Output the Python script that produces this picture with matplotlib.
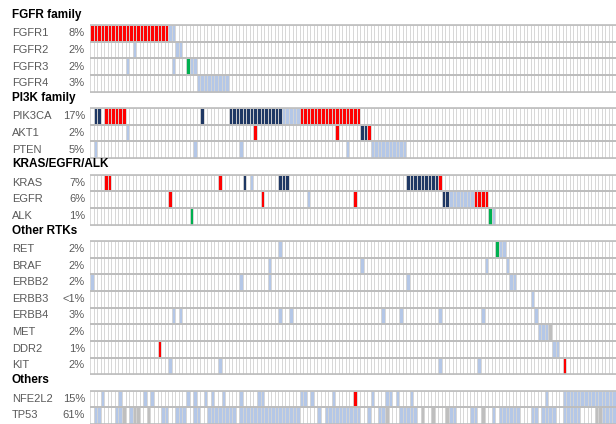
import matplotlib
matplotlib.use('Agg')
import matplotlib.pyplot as plt
from matplotlib.patches import Rectangle

# alteration colours
colors = {
    'amp': '#ff0000',
    'mut': '#1f3864',
    'oth': '#b4c7e7',
    'fus': '#00b050',
    'unk': '#bfbfbf',
}

n_samples = 148

# each gene: list of (type, first sample, last sample)
fgfr1 = [('amp', 0, 21), ('oth', 22, 23)]
fgfr2 = [('oth', 12, 12), ('oth', 24, 25)]
fgfr3 = [('oth', 10, 10), ('oth', 23, 23), ('fus', 27, 27), ('oth', 28, 29)]
fgfr4 = [('oth', 30, 38)]
pik3ca = [('mut', 1, 2), ('amp', 4, 9), ('mut', 31, 31), ('mut', 39, 53),
          ('oth', 54, 58), ('amp', 59, 75)]
akt1 = [('oth', 10, 10), ('amp', 46, 46), ('amp', 69, 69), ('mut', 76, 77), ('amp', 78, 78)]
pten = [('oth', 1, 1), ('oth', 29, 29), ('oth', 42, 42), ('oth', 72, 72), ('oth', 79, 88)]
kras = [('amp', 4, 5), ('amp', 36, 36), ('mut', 43, 43), ('oth', 45, 45), ('mut', 53, 55),
        ('mut', 89, 97), ('amp', 98, 98)]
egfr = [('amp', 22, 22), ('amp', 48, 48), ('oth', 61, 61), ('amp', 74, 74), ('mut', 99, 100),
        ('oth', 101, 107), ('amp', 108, 111)]
alk = [('fus', 28, 28), ('fus', 112, 112), ('oth', 113, 113)]
ret = [('oth', 53, 53), ('fus', 114, 114), ('oth', 115, 116)]
braf = [('oth', 50, 50), ('oth', 76, 76), ('oth', 111, 111), ('oth', 117, 117)]
erbb2 = [('oth', 0, 0), ('oth', 42, 42), ('oth', 50, 50), ('oth', 89, 89), ('oth', 118, 119)]
erbb3 = [('oth', 124, 124)]
erbb4 = [('oth', 23, 23), ('oth', 25, 25), ('oth', 53, 53), ('oth', 56, 56), ('oth', 82, 82),
         ('oth', 87, 87), ('oth', 98, 98), ('oth', 110, 110), ('oth', 125, 125)]
met = [('oth', 126, 128), ('unk', 129, 129)]
ddr2 = [('amp', 19, 19), ('oth', 130, 131)]
kit = [('oth', 22, 22), ('oth', 36, 36), ('oth', 98, 98), ('oth', 109, 109), ('amp', 133, 133)]
nfe2l2 = [('oth', 3, 3), ('oth', 8, 8), ('oth', 15, 15), ('oth', 17, 17), ('oth', 27, 27),
          ('oth', 29, 29), ('oth', 32, 32), ('oth', 34, 34), ('oth', 37, 37), ('oth', 42, 42),
          ('oth', 47, 48), ('oth', 59, 60), ('oth', 62, 62), ('oth', 68, 68), ('amp', 74, 74),
          ('oth', 79, 79), ('oth', 83, 84), ('oth', 86, 86), ('oth', 90, 90), ('oth', 128, 128),
          ('oth', 133, 147)]
tp53 = [('oth', 1, 2), ('oth', 7, 8), ('unk', 9, 9), ('oth', 11, 11), ('unk', 12, 13),
        ('unk', 16, 16), ('oth', 20, 21), ('oth', 24, 26), ('oth', 29, 30), ('oth', 33, 40),
        ('oth', 42, 58), ('oth', 64, 64), ('oth', 66, 75), ('oth', 78, 78), ('oth', 81, 82),
        ('unk', 83, 83), ('oth', 87, 91), ('unk', 93, 93), ('unk', 96, 96), ('unk', 100, 100),
        ('oth', 101, 102), ('oth', 107, 108), ('unk', 110, 110), ('oth', 113, 113),
        ('oth', 115, 120), ('oth', 124, 125), ('oth', 127, 130), ('oth', 133, 137),
        ('unk', 142, 143), ('oth', 144, 147)]

# rows top to bottom: headings have no gene data
rows = [
    ('FGFR family', None, None),
    ('FGFR1', '8%', fgfr1),
    ('FGFR2', '2%', fgfr2),
    ('FGFR3', '2%', fgfr3),
    ('FGFR4', '3%', fgfr4),
    ('PI3K family', None, None),
    ('PIK3CA', '17%', pik3ca),
    ('AKT1', '2%', akt1),
    ('PTEN', '5%', pten),
    ('KRAS/EGFR/ALK', None, None),
    ('KRAS', '7%', kras),
    ('EGFR', '6%', egfr),
    ('ALK', '1%', alk),
    ('Other RTKs', None, None),
    ('RET', '2%', ret),
    ('BRAF', '2%', braf),
    ('ERBB2', '2%', erbb2),
    ('ERBB3', '<1%', erbb3),
    ('ERBB4', '3%', erbb4),
    ('MET', '2%', met),
    ('DDR2', '1%', ddr2),
    ('KIT', '2%', kit),
    ('Others', None, None),
    ('NFE2L2', '15%', nfe2l2),
    ('TP53', '61%', tp53),
]

plt.rcParams['font.family'] = ['Liberation Sans Narrow', 'Liberation Sans', 'DejaVu Sans']

W, H = 616, 424
fig = plt.figure(figsize=(W / 100, H / 100), dpi=100)
left = 90 / W
top = 8.4 / H
ax = fig.add_axes([left, 0, 1 - left, 1 - top])
ax.set_xlim(0, n_samples)
ax.set_ylim(len(rows), 0)
ax.axis('off')

for r, (name, pct, segs) in enumerate(rows):
    yc = r + 0.5
    if segs is None:
        fig.text(12 / W, 1 - (8.4 + (r + 0.4) * 16.6) / H, name, fontsize=8.5,
                 fontweight='bold', color='black', va='center', ha='left')
        continue
    fill = ['white'] * n_samples
    for kind, a, b in segs:
        for i in range(a, b + 1):
            fill[i] = colors[kind]
    for i in range(n_samples):
        ax.add_patch(Rectangle((i, r), 1, 1, facecolor=fill[i], edgecolor='#d4d4d4',
                               linewidth=0.6))
    ax.hlines([r, r + 1], 0, n_samples, color='#bdbdbd', linewidth=1.2)
    ty = 1 - (8.4 + yc * 16.6) / H
    fig.text(12 / W, ty, name, fontsize=8, color='#595959', va='center', ha='left')
    fig.text(85 / W, ty, pct, fontsize=8, color='#595959', va='center', ha='right')

fig.savefig('out.png', dpi=100)
